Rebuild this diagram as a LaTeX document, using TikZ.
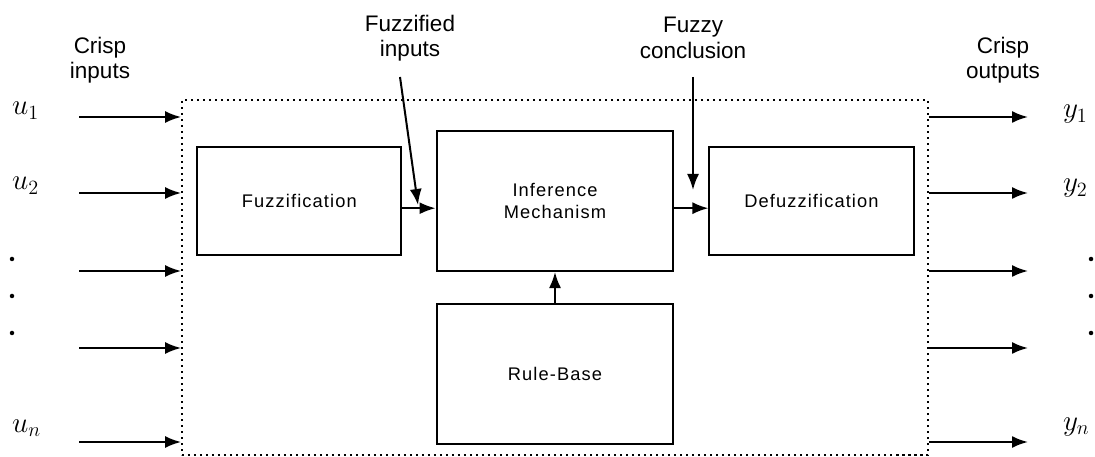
\documentclass[tikz,border=0pt]{standalone}
\usepackage{fontspec}
\setmainfont{Liberation Sans}
\newfontfamily\boxfont[LetterSpace=6]{Liberation Sans}
\usetikzlibrary{arrows.meta, positioning}

\begin{document}
\begin{tikzpicture}[x=0.025cm,y=-0.025cm,>={Latex[length=4mm,width=3mm]},line width=0.5mm]

	\tikzset{block st/.style={draw, rectangle, inner sep=0pt,
			minimum width=5.1cm, minimum height=2.7cm,
			font=\boxfont\fontsize{13}{16}\selectfont, align=center},
		big st/.style={block st, minimum width=5.92cm, minimum height=3.5cm},
		lab st/.style={font=\fontsize{16}{18}\selectfont, align=center, inner sep=0pt},
		sig st/.style={font=\fontsize{22}{24}\selectfont, inner sep=0pt, anchor=base west}}

	\useasboundingbox (0,0) rectangle (1095,457);

	% system border
	\node[draw, line width=0.4mm, dash pattern=on 0.6mm off 0.9mm,
	minimum width=18.65cm, minimum height=8.875cm, inner sep=0pt] (sys) at (555,277.5) {};

	\node[big st] (inf) at (555,201) {Inference\\Mechanism};
	\node[block st, left=0.83cm of inf] (fuzz) {Fuzzification};
	\node[block st, right=0.85cm of inf] (defuzz) {Defuzzification};
	\node[big st, below=0.78cm of inf] (rule) {Rule-Base};

	\node[lab st] (cin) at (100,60) {Crisp\\inputs};
	\node[lab st] (fzd) at (410,38) {Fuzzified\\inputs};
	\node[lab st] (fzc) at (693,38) {Fuzzy\\conclusion};
	\node[lab st] (cout) at (1003,60) {Crisp\\outputs};

	\draw[->] ([yshift=-0.18cm]fuzz.east) -- ([yshift=-0.18cm]inf.west);
	\draw[->] ([yshift=-0.18cm]inf.east) -- ([yshift=-0.18cm]defuzz.west);
	\draw[->] (rule) -- (inf);

	\coordinate (fzd top) at (400,77);
	\coordinate (fzd tip) at (418,205);
	\draw[->] (fzd top) -- (fzd tip);
	\coordinate (fzc top) at (693,77);
	\coordinate (fzc tip) at (693,190);
	\draw[->] (fzc top) -- (fzc tip);

	% inputs and outputs
	\foreach \y [count=\i] in {117,193,271,348,442} {
		\coordinate (in\i) at (79,\y);
		\coordinate (out\i) at (1028,\y);
		\draw[->] (in\i) -- (in\i -| sys.west);
		\draw[->] (out\i -| sys.east) -- (out\i);
	}

	\node[sig st] (u1) at (11,115) {$u_1$};
	\node[sig st] (u2) at (11,190) {$u_2$};
	\node[sig st] (un) at (11,432) {$u_n$};
	\node[sig st] (y1) at (1062,118) {$y_1$};
	\node[sig st] (y2) at (1062,192) {$y_2$};
	\node[sig st] (yn) at (1062,430) {$y_n$};

	\foreach \y in {259,296,333} {
		\fill (12,\y) circle (1.6pt);
		\fill (1091,\y) circle (1.6pt);
	}

\end{tikzpicture}
\end{document}
